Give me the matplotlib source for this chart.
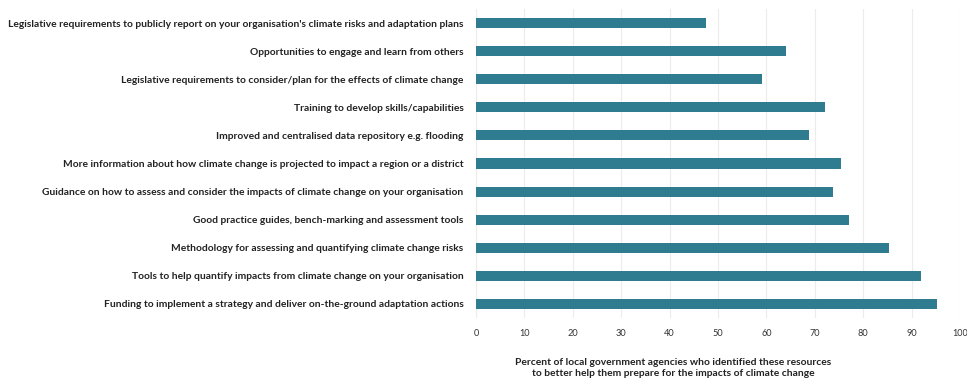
import matplotlib.pyplot as plt
import numpy as np

resources = [
    "Legislative requirements to publicly report on your organisation's climate risks and adaptation plans",
    "Opportunities to engage and learn from others",
    "Legislative requirements to consider/plan for the effects of climate change",
    "Training to develop skills/capabilities",
    "Improved and centralised data repository e.g. flooding",
    "More information about how climate change is projected to impact a region or a district",
    "Guidance on how to assess and consider the impacts of climate change on your organisation",
    "Good practice guides, bench-marking and assessment tools",
    "Methodology for assessing and quantifying climate change risks",
    "Tools to help quantify impacts from climate change on your organisation",
    "Funding to implement a strategy and deliver on-the-ground adaptation actions",
]
percent = [47.5, 64, 59, 72.2, 68.8, 75.4, 73.8, 77.1, 85.3, 91.9, 95.2]
x_ticks = list(range(0, 101, 10))

plt.rcParams['font.family'] = ['Lato', 'DejaVu Sans']

fig = plt.figure(figsize=(9.67, 3.81), dpi=100)
ax = fig.add_axes([476 / 967, 1 - 318 / 381, 484 / 967, 309 / 381])

y = np.arange(len(resources))
ax.barh(y, percent, height=0.36, color='#2f7b8f', zorder=3)
ax.set_ylim(len(resources) - 0.5, -0.5)
ax.set_xlim(0, 100)

ax.set_yticks(y)
ax.set_yticklabels(resources, fontsize=7.4, fontweight='bold', color='#222222')
ax.set_xticks(x_ticks)
ax.set_xticklabels([str(t) for t in x_ticks], fontsize=6.6, color='#333333')
ax.tick_params(axis='both', length=0)
ax.tick_params(axis='x', pad=8)
ax.tick_params(axis='y', pad=9)

ax.grid(axis='x', color='#ececec', linewidth=0.8, zorder=0)
for side in ax.spines.values():
    side.set_visible(False)

ax.set_xlabel("Percent of local government agencies who identified these resources\n"
              "to better help them prepare for the impacts of climate change",
              fontsize=7.4, fontweight='bold', color='#222222', linespacing=1.3)
ax.xaxis.set_label_coords(0.407, -0.128)

fig.savefig('out.png', dpi=100)
